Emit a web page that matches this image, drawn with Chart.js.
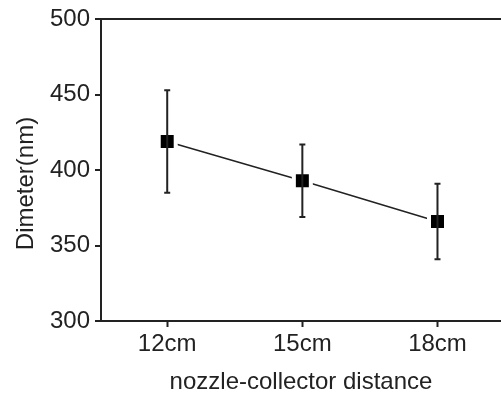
<!DOCTYPE html>
<html>
<head>
<meta charset="utf-8">
<script src="https://cdn.jsdelivr.net/npm/chart.js@4/dist/chart.umd.min.js"></script>
<style>
  body { margin: 0; background: #fff; }
  #box { width: 501px; height: 397px; }
</style>
</head>
<body>
<div id="box"><canvas id="graphique"></canvas></div>
<script>
const categories = ["12cm", "15cm", "18cm"];
const diametres = [419, 393, 366];
const erreurs = [34, 24, 25];
const ticksY = [300, 350, 400, 450, 500];

const couleur = "#222";
const police = { family: "'Liberation Sans', Arial, sans-serif", size: 24 };

// Barres d'erreur dessinées avec les échelles du graphique
const barresErreur = {
    id: "barresErreur",
    afterDatasetsDraw (chart) {
        const ctx = chart.ctx;
        const x = chart.scales.x;
        const y = chart.scales.y;
        ctx.save();
        ctx.strokeStyle = couleur;
        ctx.lineWidth = 2;
        for (let i = 0; i < diametres.length; i++) {
            const px = x.getPixelForValue(i);
            const haut = y.getPixelForValue(diametres[i] + erreurs[i]);
            const bas = y.getPixelForValue(diametres[i] - erreurs[i]);
            ctx.beginPath();
            ctx.moveTo(px, haut);
            ctx.lineTo(px, bas);
            ctx.moveTo(px - 3, haut);
            ctx.lineTo(px + 3, haut);
            ctx.moveTo(px - 3, bas);
            ctx.lineTo(px + 3, bas);
            ctx.stroke();
        }
        ctx.restore();
    }
};

const data = {
    datasets: [{
        data: diametres.map((v, i) => ({ x: i, y: v })),
        borderColor: couleur,
        borderWidth: 1.5,
        pointStyle: "rect",
        pointRadius: 12,
        pointBackgroundColor: "#000",
        pointBorderColor: "#fff",
        pointBorderWidth: 4,
        tension: 0
    }]
};

const config = {
    type: "line",
    data: data,
    options: {
        responsive: true,
        maintainAspectRatio: false,
        animation: false,
        layout: { autoPadding: false, padding: { top: 17, right: 0, left: 0, bottom: 0 } },
        plugins: { legend: { display: false }, tooltip: { enabled: false } },
        scales: {
            x: {
                type: "linear",
                min: -0.49,
                max: 2.47,
                afterFit: (s) => { s.height = 76; s.paddingLeft = 0; s.paddingRight = 0; },
                afterBuildTicks: (s) => { s.ticks = categories.map((c, i) => ({ value: i })); },
                ticks: {
                    font: police,
                    color: couleur,
                    padding: 3,
                    maxRotation: 0,
                    callback: (v) => categories[v]
                },
                grid: { drawOnChartArea: false, tickColor: couleur, tickLength: 6, tickWidth: 2 },
                border: { color: couleur, width: 2 },
                title: {
                    display: true,
                    text: "nozzle-collector distance",
                    font: police,
                    color: couleur,
                    padding: { top: 0, bottom: 0 }
                }
            },
            y: {
                min: 300,
                max: 500,
                afterFit: (s) => { s.width = 101; },
                afterBuildTicks: (s) => { s.ticks = ticksY.map(v => ({ value: v })); },
                ticks: { font: police, color: couleur, padding: 5 },
                grid: {
                    color: (c) => (c.tick && c.tick.value === 500 ? couleur : "rgba(0,0,0,0)"),
                    lineWidth: 2,
                    tickColor: couleur,
                    tickLength: 6,
                    tickWidth: 2
                },
                border: { color: couleur, width: 2 },
                title: {
                    display: true,
                    text: "Dimeter(nm)    ",
                    font: police,
                    color: couleur,
                    padding: { top: 12, bottom: 0 }
                }
            }
        }
    },
    plugins: [barresErreur]
};

new Chart(document.getElementById("graphique"), config);
</script>
</body>
</html>
